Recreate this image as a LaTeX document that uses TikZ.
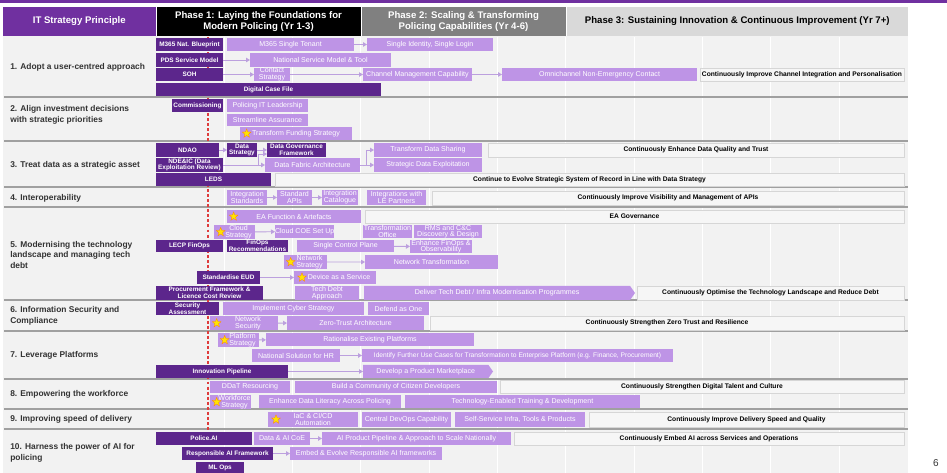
\documentclass[tikz,border=0pt]{standalone}
\usepackage{fontspec}
\setmainfont{Liberation Sans}
\usetikzlibrary{arrows.meta,shapes.symbols,shapes.geometric}
\definecolor{dkp}{RGB}{92,38,140}
\definecolor{ltp}{RGB}{190,148,230}
\definecolor{hdrp}{RGB}{112,48,160}
\definecolor{ph2}{RGB}{128,128,128}
\definecolor{ph3}{RGB}{217,217,217}
\definecolor{panel}{RGB}{242,242,242}
\definecolor{contbg}{RGB}{246,246,246}
\definecolor{contbd}{RGB}{214,214,214}
\definecolor{sepc}{RGB}{160,160,160}
\definecolor{arrc}{RGB}{188,160,222}
\definecolor{redd}{RGB}{222,60,60}
\definecolor{lblc}{RGB}{51,51,51}
\definecolor{staryel}{RGB}{255,228,0}
\newcommand\bx[7]{\node[#1,anchor=north west,minimum width={(#5-#3)*0.75pt},minimum height={(#6-#4)*0.75pt}] (#2) at (#3,#4) {#7};}
\newcommand\chv[7]{\node[#1,anchor=west,minimum width={(#5-#3)*0.75pt},minimum height={(#6-#4)*0.75pt}] (#2) at (#3,{(#4+#6)/2}) {#7};}
\newcommand\stxt[1]{\hspace*{6pt}\begin{tabular}{@{}c@{}}#1\end{tabular}}
\newcommand\addstar[2][5]{\node[stary] (#2-s) at ([xshift=#1pt]#2.west) {};}
\tikzset{
  base/.style={inner sep=0pt, outer sep=0pt, align=center},
  dk/.style={base, fill=dkp, text=white, font=\fontsize{4.8}{5}\selectfont\bfseries},
  lt/.style={base, fill=ltp, text=white, font=\fontsize{5.3}{5}\selectfont},
  cont/.style={base, fill=contbg, draw=contbd, line width=0.4pt, text=black, font=\fontsize{5}{5.5}\selectfont\bfseries},
  chev/.style={lt, signal, signal to=east, signal pointer angle=110},
  hdr/.style={base, font=\fontsize{7.2}{8.8}\selectfont\bfseries},
  lbl/.style={anchor=west, align=left, inner sep=0pt, text=lblc, font=\fontsize{6.3}{8}\selectfont\bfseries},
  arr/.style={draw=arrc, line width=0.7pt, -{Triangle[length=3pt,width=3.4pt]}},
  sep/.style={draw=sepc, line width=1pt},
  gridl/.style={draw=white, line width=0.7pt},
  stary/.style={star, star points=5, star point ratio=2.3, fill=staryel, draw=orange, line width=0.2pt, minimum size=7pt, inner sep=0pt},
  reddash/.style={draw=redd, line width=0.8pt, dash pattern=on 2.2pt off 1.6pt},
}
\begin{document}
\begin{tikzpicture}[x=0.75pt, y=-0.75pt]
\useasboundingbox (0,0) rectangle (947,473);
% top bar and panel
\fill[hdrp] (0,0) rectangle (947,3.5);
\fill[panel] (3,36) rectangle (908,473);
\foreach \k in {1,...,10} \draw[gridl] ({156+68.3*\k},37) -- ({156+68.3*\k},473);
\foreach \yy in {97,141,187,207,300,331,379,409,429} \draw[sep] (4,\yy) -- (908,\yy);
% headers
\bx{hdr,fill=hdrp,text=white}{h0}{3}{7}{155.5}{36}{IT Strategy Principle}
\bx{hdr,fill=black,text=white}{h1}{156.5}{7}{360.5}{36}{Phase 1: Laying the Foundations for\\Modern Policing (Yr 1-3)}
\bx{hdr,fill=ph2,text=white}{h2}{361.5}{7}{565.5}{36}{Phase 2: Scaling \& Transforming\\Policing Capabilities (Yr 4-6)}
\bx{hdr,fill=ph3,text=black}{h3}{566.5}{7}{908}{36}{Phase 3: Sustaining Innovation \& Continuous Improvement (Yr 7+)}
% row labels
\node[lbl] (l1) at (10,67) {1. Adopt a user-centred approach};
\node[lbl] (l2) at (10,115) {2. Align investment decisions\\with strategic priorities};
\node[lbl] (l3) at (10,165) {3. Treat data as a strategic asset};
\node[lbl] (l4) at (10,198) {4. Interoperability};
\node[lbl] (l5) at (10,255) {5. Modernising the technology\\landscape and managing tech\\debt};
\node[lbl] (l6) at (10,316) {6. Information Security and\\Compliance};
\node[lbl] (l7) at (10,355) {7. Leverage Platforms};
\node[lbl] (l8) at (10,394) {8. Empowering the workforce};
\node[lbl] (l9) at (10,419) {9. Improving speed of delivery};
\node[lbl] (l10) at (10,453) {10. Harness the power of AI for\\policing};
% red dashed line
\coordinate (rtop) at (208,37);
\coordinate (rbot) at (208,442);
\draw[reddash] (rtop) -- (rbot);
% Row 1
\bx{dk}{m365bp}{156}{38}{223}{51}{M365 Nat. Blueprint}
\bx{lt}{m365st}{227}{38}{354}{51}{M365 Single Tenant}
\bx{lt}{sisl}{367}{38}{493}{51}{Single Identity, Single Login}
\bx{dk}{pds}{156}{53}{223}{67}{PDS Service Model}
\bx{lt}{nsm}{250}{53}{391}{67}{National Service Model \& Tool}
\bx{dk}{soh}{156}{68}{223}{81}{SOH}
\bx{lt}{cs}{254}{68}{290}{81}{Contact\\Strategy}
\bx{lt}{cmc}{363}{68}{472}{81}{Channel Management Capability}
\bx{lt}{onec}{502}{68}{697}{81}{Omnichannel Non-Emergency Contact}
\bx{cont}{c1}{700}{68}{904}{81}{Continuously Improve Channel Integration and Personalisation}
\bx{dk}{dcf}{156}{83}{381}{96}{Digital Case File}
\draw[arr] (m365st) -- (sisl);
\draw[arr] (pds) -- (nsm);
\draw[arr] (soh) -- (cs);
\draw[arr] (cs) -- (cmc);
\draw[arr] (cmc) -- (onec);
% Row 2
\bx{dk}{comm}{172}{99}{223}{112}{Commissioning}
\bx{lt}{pitl}{227}{99}{308}{112}{Policing IT Leadership}
\bx{lt}{sa}{227}{114}{308}{126}{Streamline Assurance}
\bx{lt}{tfs}{240}{127}{352}{140}{Transform Funding Strategy}
\addstar{tfs}
% Row 3
\bx{dk}{ndao}{156}{143}{219}{157}{NDAO}
\bx{dk}{dstr}{227}{143}{257}{157}{Data\\Strategy}
\bx{dk}{dgf}{267}{143}{326}{157}{Data Governance\\Framework}
\bx{dk}{nde}{156}{158}{223}{172}{NDE\&IC (Data\\Exploitation Review)}
\bx{lt}{dfa}{265}{158}{360}{172}{Data Fabric Architecture}
\bx{lt}{tds}{374}{143}{482}{157}{Transform Data Sharing}
\bx{lt}{sde}{374}{158}{482}{172}{Strategic Data Exploitation}
\bx{cont}{c3a}{488}{143}{904}{157}{Continuously Enhance Data Quality and Trust}
\bx{dk}{leds}{156}{173}{271}{186}{LEDS}
\bx{cont}{c3b}{275}{173}{904}{186}{Continue to Evolve Strategic System of Record in Line with Data Strategy}
\draw[arr] (ndao) -- (dstr);
\draw[arr] (dstr) -- (dgf);
\draw[arr] (nde) -- (dfa);
\coordinate (ndej) at (258,165);
\draw[arr] (ndej) |- ([yshift=-3pt]dgf.west);
\draw[arr] (dfa.east) -- ++(6,0) |- (tds.west);
\draw[arr] (dfa) -- (sde);
% Row 4
\bx{lt}{ist}{227}{190}{267}{205}{Integration\\Standards}
\bx{lt}{sapi}{277}{190}{312}{205}{Standard\\APIs}
\bx{lt}{icat}{322}{190}{358}{205}{Integration\\Catalogue}
\bx{lt}{ilep}{367}{190}{426}{205}{Integrations with\\LE Partners}
\bx{cont}{c4}{432}{191}{904}{205}{Continuously Improve Visibility and Management of APIs}
\draw[arr] (ist) -- (sapi);
\draw[arr] (sapi) -- (icat);
% Row 5
\bx{lt}{eaf}{227}{210}{361}{223}{EA Function \& Artefacts}
\addstar{eaf}
\bx{cont}{c5a}{365}{210}{904}{223}{EA Governance}
\bx{lt}{cst}{214}{225}{255}{238}{\stxt{Cloud\\Strategy}}
\addstar{cst}
\bx{lt}{ccoe}{275}{225}{334}{238}{Cloud COE Set Up}
\bx{lt}{tof}{363}{225}{412}{238}{Transformation\\Office}
\bx{lt}{rms}{414}{225}{482}{238}{RMS and C\&C\\Discovery \& Design}
\bx{dk}{lecp}{156}{240}{223}{252}{LECP FinOps}
\bx{dk}{finr}{227}{240}{288}{252}{FinOps\\Recommendations}
\bx{lt}{scp}{297}{240}{394}{252}{Single Control Plane}
\bx{lt}{efo}{410}{240}{472}{252}{Enhance FinOps \&\\Observability}
\bx{lt}{nst}{284}{255}{327}{269}{\stxt{Network\\Strategy}}
\addstar{nst}
\bx{lt}{ntr}{365}{255}{498}{269}{Network Transformation}
\bx{dk}{seud}{197}{271}{260}{284}{Standardise EUD}
\bx{lt}{daas}{294}{271}{376}{284}{\stxt{Device as a Service}}
\addstar[6]{daas}
\bx{dk}{pfl}{156}{286}{263}{300}{Procurement Framework \&\\Licence Cost Review}
\bx{lt}{tda}{295}{286}{359}{300}{Tech Debt\\Approach}
\chv{chev}{dtd}{364}{286}{635}{300}{Deliver Tech Debt / Infra Modernisation Programmes}
\bx{cont}{c5b}{637}{286}{904}{300}{Continuously Optimise the Technology Landscape and Reduce Debt}
\draw[arr] (cst) -- (ccoe);
\draw[arr] (scp) -- (efo);
\draw[arr] (nst) -- (ntr);
\draw[arr] (seud) -- (daas);
% Row 6
\bx{dk}{secas}{156}{302}{219}{315}{Security\\Assessment}
\bx{lt}{ics}{223}{302}{364}{315}{Implement Cyber Strategy}
\bx{lt}{dao}{368}{302}{429}{315}{Defend as One}
\bx{lt}{nsec}{210}{316}{278}{330}{\stxt{Network\\Security}}
\addstar{nsec}
\bx{lt}{zta}{287}{316}{424}{330}{Zero-Trust Architecture}
\bx{cont}{c6}{430}{316}{904}{330}{Continuously Strengthen Zero Trust and Resilience}
\draw[arr] (nsec) -- (zta);
% Row 7
\bx{lt}{pst}{218}{333}{259}{346}{\stxt{Platform\\Strategy}}
\addstar{pst}
\bx{lt}{rep}{266}{333}{474}{346}{Rationalise Existing Platforms}
\bx{lt}{nshr}{252}{349}{340}{362}{National Solution for HR}
\bx{lt,font=\fontsize{5}{5.2}\selectfont}{ifu}{362}{349}{673}{362}{Identify Further Use Cases for Transformation to Enterprise Platform (e.g. Finance, Procurement)}
\bx{dk}{ipl}{156}{365}{288}{378}{Innovation Pipeline}
\chv{chev}{dpm}{363}{365}{493}{378}{Develop a Product Marketplace}
\draw[arr] (pst) -- (rep);
\draw[arr] (nshr) -- (ifu);
\draw[arr] (ipl) -- (dpm);
% Row 8
\bx{lt}{ddat}{210}{381}{290}{393}{DDaT Resourcing}
\bx{lt}{bcc}{295}{381}{497}{393}{Build a Community of Citizen Developers}
\bx{cont}{c8}{500}{380}{904}{393}{Continuously Strengthen Digital Talent and Culture}
\bx{lt}{wfs}{210}{395}{251}{408}{\stxt{Workforce\\Strategy}}
\addstar{wfs}
\bx{lt}{edl}{259}{395}{401}{408}{Enhance Data Literacy Across Policing}
\bx{lt}{tet}{405}{395}{640}{408}{Technology-Enabled Training \& Development}
% Row 9
\bx{lt}{iac}{268}{412}{358}{427}{IaC \& CI/CD\\Automation}
\addstar[6]{iac}
\bx{lt}{cdc}{362}{412}{451}{427}{Central DevOps Capability}
\bx{lt}{ssi}{455}{412}{585}{427}{Self-Service Infra, Tools \& Products}
\bx{cont}{c9}{589}{412}{904}{427}{Continuously Improve Delivery Speed and Quality}
% Row 10
\bx{dk}{pai}{156}{432}{252}{445}{Police.AI}
\bx{lt}{daic}{254}{432}{310}{445}{Data \& AI CoE}
\bx{lt}{aipp}{322}{432}{511}{445}{AI Product Pipeline \& Approach to Scale Nationally}
\bx{cont}{c10}{514}{432}{904}{445}{Continuously Embed AI across Services and Operations}
\bx{dk}{raf}{182}{447}{273}{460}{Responsible AI Framework}
\bx{lt}{eer}{290}{447}{442}{460}{Embed \& Evolve Responsible AI frameworks}
\bx{dk}{mlo}{196}{462}{244}{473}{ML Ops}
\draw[arr] (daic) -- (aipp);
\draw[arr] (raf) -- (eer);
% page number
\node[inner sep=0pt, text=lblc, font=\fontsize{7.5}{8}\selectfont] (pg) at (936,463) {6};
\end{tikzpicture}
\end{document}
